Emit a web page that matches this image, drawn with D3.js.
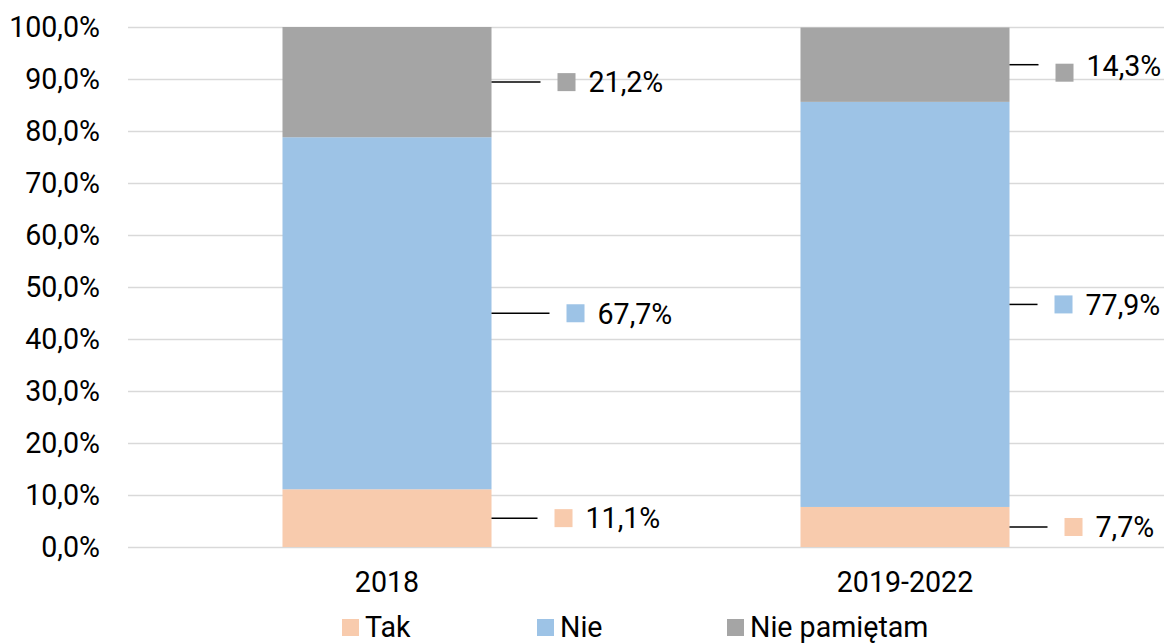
<!DOCTYPE html>
<html>
<head>
<meta charset="utf-8">
<script src="https://cdn.jsdelivr.net/npm/d3@7"></script>
<style>
  body { margin: 0; background: #fff; }
  text { font-family: Roboto, "Noto Sans", sans-serif; fill: #000; }
</style>
</head>
<body>
<script>
const categories = ['2018', '2019-2022']
const seriesNames = ['Tak', 'Nie', 'Nie pamiętam']
const tak = [11.1, 7.7]
const nie = [67.7, 77.9]
const niePamietam = [21.2, 14.3]
const yTicks = [0, 10, 20, 30, 40, 50, 60, 70, 80, 90, 100]

const COLORS = ['#F8CBAD', '#9DC3E6', '#A5A5A5']
const WIDTH = 1170
const HEIGHT = 643
const FONT = 28.6

// leader line length for each label (per category, per series)
const LEADER = [[46, 58, 49], [38, 28, 29]]

const svg = d3.select('body').append('svg')
  .attr('width', WIDTH).attr('height', HEIGHT)

const x = d3.scaleBand()
  .domain(categories)
  .range([128, 1164])
  .paddingInner(0.5965)
  .paddingOuter(0.5965 / 2)

const y = d3.scaleLinear().domain([0, 100]).range([547, 27])

const fmt = d => d.toFixed(1).replace('.', ',') + '%'

// grid + y labels
const yAxis = svg.append('g')
  .attr('transform', 'translate(128,0)')
  .call(d3.axisLeft(y).tickValues(yTicks).tickSize(-1036).tickPadding(28).tickFormat(fmt))
yAxis.select('.domain').remove()
yAxis.selectAll('line').attr('stroke', '#D9D9D9').attr('stroke-width', 1.5)
yAxis.selectAll('text').attr('font-size', FONT).attr('font-family', 'Roboto').attr('fill', '#000')

// stack
const rows = categories.map((c, i) => ({ cat: c, 'Tak': tak[i], 'Nie': nie[i], 'Nie pamiętam': niePamietam[i] }))
const stacked = d3.stack().keys(seriesNames)(rows)

stacked.forEach((s, si) => {
  svg.append('g').selectAll('rect')
    .data(s)
    .enter()
    .append('rect')
    .attr('x', d => x(d.data.cat))
    .attr('width', x.bandwidth())
    .attr('y', d => y(d[1]))
    .attr('height', d => y(d[0]) - y(d[1]))
    .attr('fill', COLORS[si])
})

// data labels with leader lines
stacked.forEach((s, si) => {
  s.forEach((d, ci) => {
    const x0 = x(d.data.cat) + x.bandwidth()
    const yc = y((d[0] + d[1]) / 2)
    const x1 = x0 + LEADER[ci][si]
    const markerDy = (ci === 1 && si === 2) ? 8 : 0
    const textDy = (ci === 1 && si === 2) ? 1 : 0
    svg.append('line')
      .attr('x1', x0).attr('x2', x1)
      .attr('y1', yc).attr('y2', yc)
      .attr('stroke', '#000').attr('stroke-width', 1.5)
    svg.append('rect')
      .attr('x', x1 + 17).attr('y', yc - 9 + markerDy)
      .attr('width', 18).attr('height', 18)
      .attr('fill', COLORS[si])
    svg.append('text')
      .attr('x', x1 + 48).attr('y', yc + textDy)
      .attr('dy', '0.36em')
      .attr('font-size', FONT)
      .text(fmt(d.data[seriesNames[si]]))
  })
})

// category labels
svg.append('g').selectAll('text')
  .data(categories)
  .enter()
  .append('text')
  .attr('x', d => x(d) + x.bandwidth() / 2)
  .attr('y', 592)
  .attr('text-anchor', 'middle')
  .attr('font-size', FONT)
  .text(d => d)

// legend
const legendX = [342, 537, 727]
const legend = svg.append('g').selectAll('g')
  .data(seriesNames)
  .enter()
  .append('g')
  .attr('transform', (d, i) => `translate(${legendX[i]},627)`)
legend.append('rect')
  .attr('x', 0).attr('y', -8)
  .attr('width', 17).attr('height', 17)
  .attr('fill', (d, i) => COLORS[i])
legend.append('text')
  .attr('x', 23).attr('y', 0)
  .attr('dy', '0.36em')
  .attr('font-size', FONT)
  .text(d => d)
</script>
</body>
</html>
